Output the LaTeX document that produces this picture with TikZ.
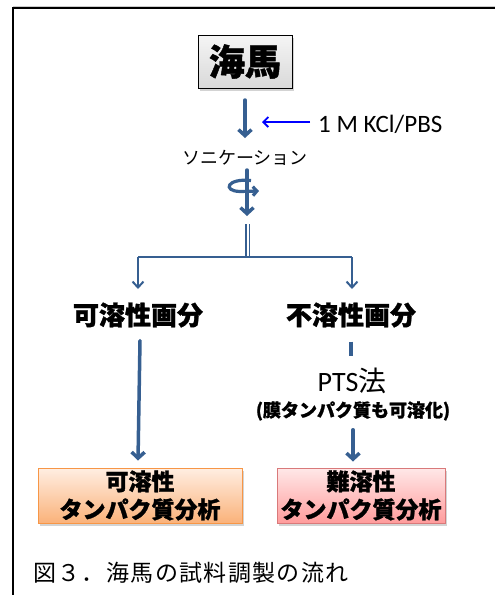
\documentclass[tikz,border=0pt]{standalone}
\usepackage{fontspec}
\newfontfamily\jp[BoldFeatures={FakeBold=1.2}]{Noto Sans CJK JP}
\newfontfamily\lat{Carlito}
\usetikzlibrary{arrows.meta,shadows}
\definecolor{darkblue}{HTML}{365F91}
\definecolor{orangeborder}{HTML}{F79646}
\definecolor{orangetop}{HTML}{FFEEE2}
\definecolor{orangebot}{HTML}{FAB27A}
\definecolor{pinkborder}{HTML}{D9797A}
\definecolor{pinktop}{HTML}{FFE8E8}
\definecolor{pinkbot}{HTML}{FF9C9C}
\tikzset{
  flow/.style={draw=darkblue, line width=3.5pt, line cap=round, -{Straight Barb[length=6pt,width=13pt]}},
  thinflow/.style={draw=darkblue, line width=2pt, -{Straight Barb[length=6pt,width=11pt]}},
  plainline/.style={draw=darkblue, line width=3.5pt},
  bluearrow/.style={draw=blue, line width=1.8pt, -{Straight Barb[length=5pt,width=10pt]}},
  shadowed/.style={drop shadow={shadow xshift=2pt,shadow yshift=-2.5pt,opacity=0.35,fill=gray}},
  topbox/.style={draw=black, line width=1pt, top color=gray!8, bottom color=gray!30, shadowed,
     minimum width=94pt, minimum height=53pt, inner sep=0pt,
     font=\jp\bfseries\fontsize{36}{40}\selectfont},
  resbox/.style={line width=1pt, shadowed, minimum height=55pt, inner sep=0pt, align=center,
     font=\jp\bfseries\fontsize{23}{28}\selectfont},
  label/.style={inner sep=0pt, font=\jp\bfseries\fontsize{26}{28}\selectfont},
}
\begin{document}
\begin{tikzpicture}[x=1pt,y=-1pt]
\useasboundingbox (0,0) rectangle (495,595);
\draw[line width=2pt, gray!40] (13,6.5) -- (495,6.5);
\draw[line width=2pt] (13,595) -- (13,8) -- (495,8);

\node[topbox] (hippo) at (245,61.5) {海馬};

\node[inner sep=0pt, font=\jp\fontsize{18}{20}\selectfont] (soni) at (245,158) {ソニケーション};
\draw[flow] (245,100) coordinate (a1s) -- (245,138) coordinate (a1e);

\node[anchor=west, inner sep=0pt, font=\lat\fontsize{25}{28}\selectfont] (kcl) at (318,124) {1 M KCl/PBS};
\coordinate (kcltip) at (262,122);
\draw[bluearrow] ([xshift=-8pt,yshift=2pt]kcl.west) -- (kcltip);

% sonication swirl
\coordinate (s1) at (247,170);
\coordinate (s2) at (247,216);
\draw[flow] (s1) -- (s2);
\coordinate (l1) at (251,180.5);
\coordinate (l2) at (259,191);
\draw[draw=darkblue, line width=3.2pt, -{Straight Barb[length=4pt,width=9pt]}]
  (l1) .. controls (227,178) and (222,191) .. (240,191.5) -- (l2);

% double line and branching
\coordinate (d1) at (247.5,224);
\coordinate (d2) at (247.5,257);
\draw[draw=darkblue, line width=1.8pt, double=white, double distance=2pt] (d1) -- (d2);
\coordinate (bl) at (138,257);
\coordinate (br) at (352,257);
\draw[darkblue, line width=2pt] (bl) -- (br);
\coordinate (blt) at (138,289);
\coordinate (brt) at (352,289);
\draw[thinflow] (bl) -- (blt);
\draw[thinflow] (br) -- (brt);

\node[label] (sol) at (138,315) {可溶性画分};
\node[label] (insol) at (351,315) {不溶性画分};

\node[inner sep=0pt, font=\fontsize{28}{30}\selectfont] (pts) at (352,381) {\lat PTS\jp 法};
\node[inner sep=0pt, font=\jp\bfseries\fontsize{18}{22}\selectfont] (note) at (353,411) {(膜タンパク質も可溶化)};

\node[resbox, draw=orangeborder, top color=orangetop, bottom color=orangebot, minimum width=204pt]
  (solbox) at (140,495.5) {可溶性\\タンパク質分析};
\node[resbox, draw=pinkborder, top color=pinktop, bottom color=pinkbot, minimum width=168pt]
  (insbox) at (361,495.5) {難溶性\\タンパク質分析};

\draw[flow] ([xshift=2pt,yshift=-13pt]sol.south) -- ([yshift=7pt]solbox.north -| sol.south) ;
\draw[plainline] ([yshift=-14pt]insol.south) -- ([yshift=-28pt]insol.south);
\draw[flow] ([yshift=-9pt]note.south) -- ([yshift=6pt]insbox.north -| note.south);

\node[anchor=west, inner sep=0pt, font=\jp\fontsize{23}{26}\selectfont\addfontfeature{LetterSpace=6}] (cap) at (33,573) {図３．海馬の試料調製の流れ};
\end{tikzpicture}
\end{document}
